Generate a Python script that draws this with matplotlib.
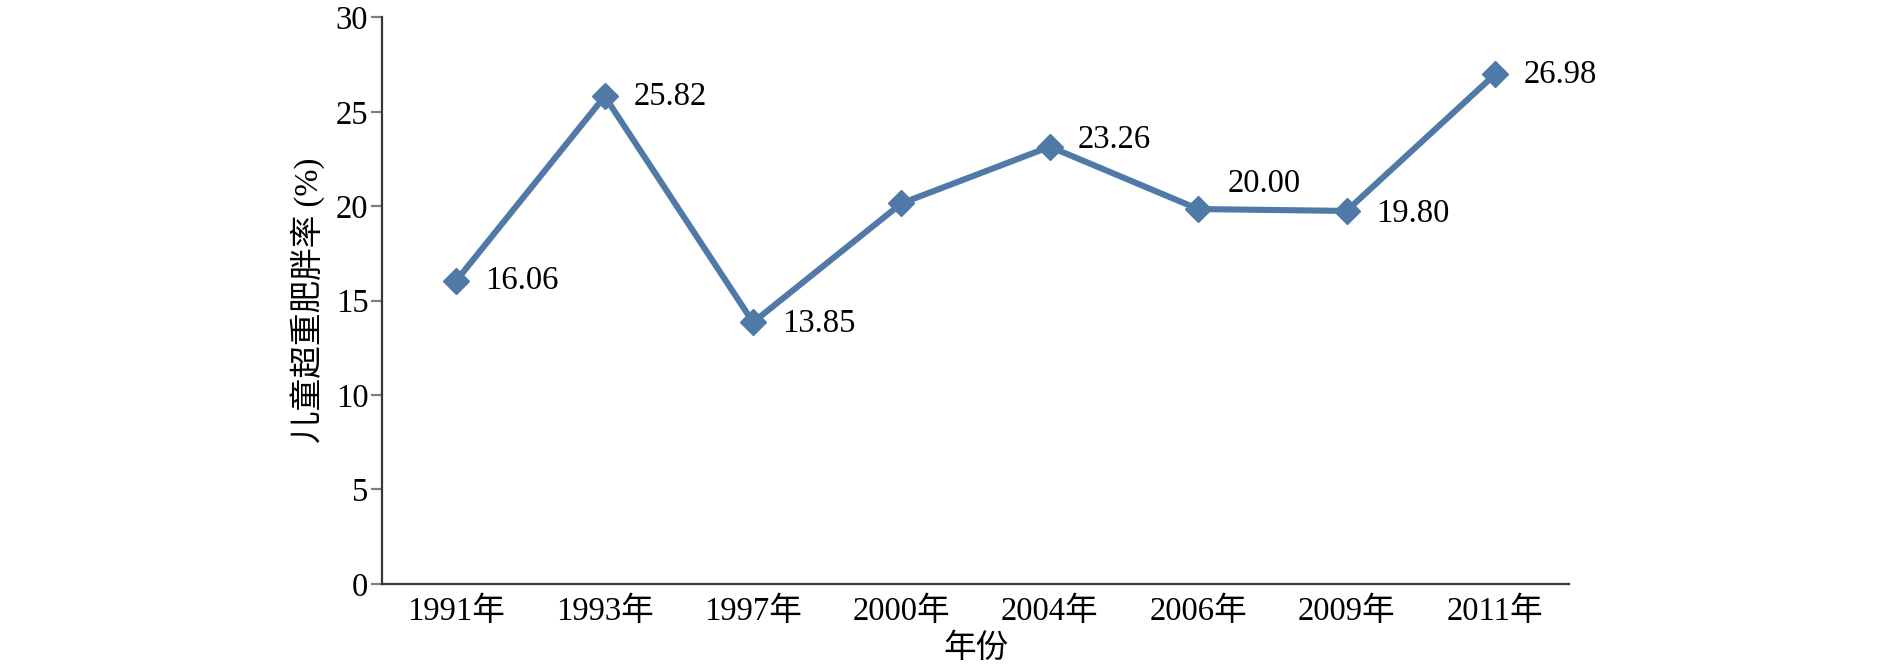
import matplotlib
matplotlib.use("Agg")
import matplotlib.pyplot as plt
import numpy as np

plt.rcParams['font.family'] = ['Liberation Serif', 'Noto Sans CJK SC']

# datos
years = ["1991年", "1993年", "1997年", "2000年", "2004年", "2006年", "2009年", "2011年"]
rate = [16.06, 25.82, 13.85, 20.15, 23.15, 19.85, 19.75, 26.98]
labels = ["16.06", "25.82", "13.85", "", "23.26", "20.00", "19.80", "26.98"]
yticks = [0, 5, 10, 15, 20, 25, 30]

color = "#4f79a7"
fs = 23.5

fig = plt.figure(figsize=(18.9, 6.69), dpi=100)
ax = fig.add_axes([0.2022, 0.1273, 0.628, 0.8467])

x = np.arange(len(years))
ax.plot(x, rate, color=color, lw=4.4, marker="D", ms=13.5, mew=1, mec=color, zorder=3)

# desplazamiento de cada etiqueta (puntos)
offs = [(21, 0), (21, 0), (21, -1), (0, 0), (20, 5), (21, 18), (21, -2), (21, 0)]
for i, (v, t) in enumerate(zip(rate, labels)):
    if t:
        ax.annotate(t, (x[i], v), xytext=offs[i], textcoords="offset points",
                    fontsize=fs, va="center", ha="left")

ax.set_xlim(-0.5, len(years) - 0.5)
ax.set_ylim(0, 30)
ax.set_yticks(yticks)
ax.set_xticks(x)
ax.set_xticklabels(years)

for s in ["top", "right"]:
    ax.spines[s].set_visible(False)
for s in ["left", "bottom"]:
    ax.spines[s].set_color("#2f3a3a")
    ax.spines[s].set_linewidth(1.6)

ax.tick_params(axis="y", length=8, width=1.6, color="#7a8080", labelsize=fs, pad=2)
ax.tick_params(axis="x", length=0, labelsize=fs, pad=9)

ax.set_ylabel("儿童超重肥胖率 (%)", fontsize=fs, labelpad=8)
ax.set_xlabel("年份", fontsize=fs, labelpad=5)

fig.savefig("out.png", dpi=100)
